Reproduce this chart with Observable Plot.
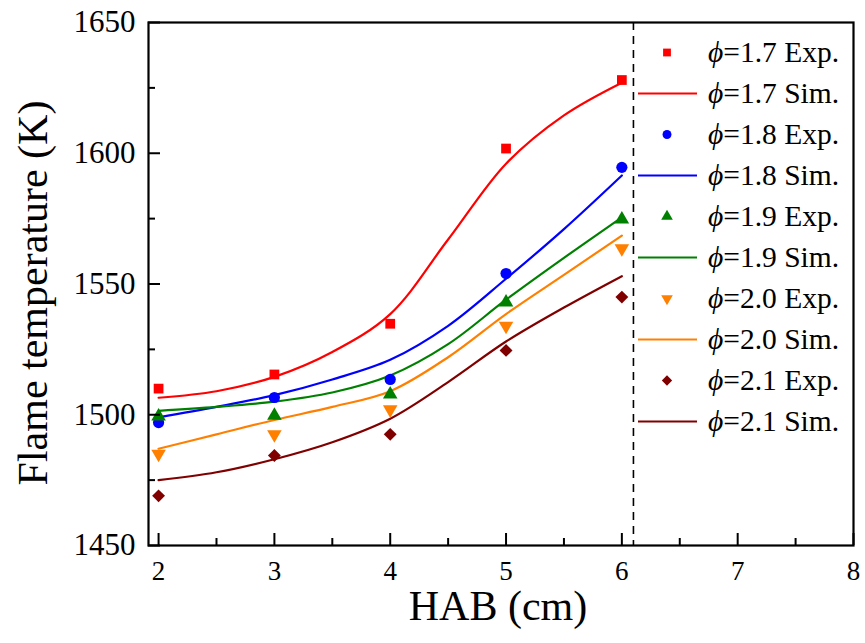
<!DOCTYPE html>
<html>
<head>
<meta charset="utf-8">
<script src="https://cdn.jsdelivr.net/npm/d3@7"></script>
<script src="https://cdn.jsdelivr.net/npm/@observablehq/plot@0.6"></script>
<style>
  html, body { margin: 0; padding: 0; background: #fff; }
  #wrap { position: relative; width: 865px; height: 643px; font-family: "Liberation Serif", serif; }
  #legend { position: absolute; left: 632px; top: 32px; }
  .row { display: flex; align-items: center; height: 41px; }
  .row svg { width: 70px; height: 41px; flex: none; }
  .row span { margin-left: 6px; font-size: 29.5px; color: #000; white-space: nowrap; }
  .row i { font-style: italic; }
</style>
</head>
<body>
<div id="wrap"><div id="legend"></div></div>
<script>
// Measurement heights above burner (cm)
const hab = [2, 3, 4, 5, 6];
// Equivalence ratios
const phis = ["1.7", "1.8", "1.9", "2.0", "2.1"];
const colors = ["#ff0000", "#0000ff", "#008000", "#ff8000", "#800000"];

// Experimental flame temperatures (K)
const exp17 = [1510, 1515.4, 1534.8, 1601.8, 1628];
const exp18 = [1497, 1506.6, 1513.5, 1554, 1594.6];
const exp19 = [1499.4, 1499.7, 1507.8, 1543, 1574.7];
const exp20 = [1485, 1492.5, 1502, 1534, 1563.6];
const exp21 = [1469, 1484.4, 1492.5, 1524.6, 1545];

// Simulated flame temperatures (K)
const simX = [2, 2.5, 3, 3.5, 4, 4.5, 5, 5.5, 6];
const sim17 = [1506.5, 1509, 1514.5, 1524, 1538.5, 1567, 1596, 1614.5, 1627];
const sim18 = [1499, 1503, 1507.5, 1513.5, 1521, 1534, 1552, 1571, 1591.5];
const sim19 = [1501.5, 1503, 1505, 1508.5, 1515, 1527, 1544, 1560, 1575.5];
const sim20 = [1487, 1492.5, 1498, 1503, 1509, 1522, 1538.5, 1553.5, 1568.5];
const sim21 = [1475, 1478, 1483, 1489.5, 1498.5, 1512.5, 1528, 1541, 1553];

// Axis ticks and the dashed boundary
const xMajor = [2, 3, 4, 5, 6, 7, 8];
const xMinor = [2.5, 3.5, 4.5, 5.5, 6.5, 7.5];
const yMajor = [1450, 1500, 1550, 1600, 1650];
const yMinor = [1475, 1525, 1575, 1625];
const boundary = [6.1];

const expSets = [exp17, exp18, exp19, exp20, exp21];
const simSets = [sim17, sim18, sim19, sim20, sim21];

const serif = "Liberation Serif";

// Downward-pointing triangle symbol
const triangleDown = {
  draw(ctx, size) {
    const s3 = Math.sqrt(3);
    const y = -Math.sqrt(size / (s3 * 3));
    ctx.moveTo(0, -y * 2);
    ctx.lineTo(-s3 * y, y);
    ctx.lineTo(s3 * y, y);
    ctx.closePath();
  }
};
const symbols = ["square", "circle", "triangle", triangleDown, "diamond2"];
const radii = [5.5, 5.6, 5.4, 5.4, 5.8];

const simMarks = simSets.map((vals, i) =>
  Plot.line(simX.map((x, j) => ({x, t: vals[j]})), {
    x: "x", y: "t", stroke: colors[i], strokeWidth: 2.2, curve: "catmull-rom"
  })
);
const expMarks = expSets.map((vals, i) =>
  Plot.dot(hab.map((x, j) => ({x, t: vals[j]})), {
    x: "x", y: "t", symbol: symbols[i], r: radii[i], fill: colors[i], stroke: "none"
  })
);

const axisStyle = {label: null, stroke: "#000", color: "#000", fill: "#000", fontFamily: serif};
const plain = d => String(d);

const chart = Plot.plot({
  width: 865,
  height: 643,
  marginLeft: 148,
  marginRight: 12,
  marginTop: 22,
  marginBottom: 98,
  style: {background: "#fff", color: "#000", overflow: "visible"},
  x: {domain: [1.913, 8]},
  y: {domain: [1450, 1650]},
  marks: [
    ...simMarks,
    ...expMarks,
    Plot.ruleX(boundary, {stroke: "#000", strokeWidth: 1.6, strokeDasharray: "8,6"}),
    // tick labels
    Plot.axisX(xMajor, {...axisStyle, tickSize: 0, tickPadding: 15, fontSize: 27, tickFormat: plain}),
    Plot.axisY(yMajor, {...axisStyle, tickSize: 0, tickPadding: 13, fontSize: 31, tickFormat: plain}),
    // inward tick marks
    Plot.axisX(xMajor, {...axisStyle, tickSize: -12, strokeWidth: 2, tickFormat: () => ""}),
    Plot.axisX(xMinor, {...axisStyle, tickSize: -7, strokeWidth: 2, tickFormat: () => ""}),
    Plot.axisY(yMajor, {...axisStyle, tickSize: -12, strokeWidth: 2, tickFormat: () => ""}),
    Plot.axisY(yMinor, {...axisStyle, tickSize: -7, strokeWidth: 2, tickFormat: () => ""}),
    Plot.frame({stroke: "#000", strokeWidth: 2.2}),
    // axis titles
    Plot.text(["HAB (cm)"], {frameAnchor: "bottom", dx: -3, dy: 74, fontSize: 42, fill: "#000", fontFamily: serif}),
    Plot.text(["Flame temperature (K)"], {
      frameAnchor: "left", textAnchor: "middle", dx: -115, dy: 9, rotate: -90,
      fontSize: 42, fill: "#000", fontFamily: serif
    })
  ]
});
// Serif face on every chart text
d3.select(chart).attr("font-family", serif);
d3.select(chart).selectAll("g, text").attr("font-family", serif).style("font-family", serif);

const wrap = document.getElementById("wrap");
wrap.insertBefore(chart, wrap.firstChild);

// Legend: experimental symbol followed by simulated line, for each ratio
const legend = d3.select("#legend");
phis.forEach((p, i) => {
  const expRow = legend.append("div").attr("class", "row");
  const s = expRow.append("svg");
  const sym = typeof symbols[i] === "string"
    ? {square: d3.symbolSquare, circle: d3.symbolCircle, triangle: d3.symbolTriangle, diamond2: d3.symbolDiamond2}[symbols[i]]
    : symbols[i];
  s.append("path")
    .attr("transform", "translate(35,20.5)")
    .attr("d", d3.symbol(sym, Math.PI * (radii[i] * 0.8) ** 2)())
    .attr("fill", colors[i]);
  expRow.append("span").html(`<i>ϕ</i>=${p} Exp.`);

  const simRow = legend.append("div").attr("class", "row");
  const s2 = simRow.append("svg");
  s2.append("line").attr("x1", 6).attr("x2", 65).attr("y1", 20.5).attr("y2", 20.5)
    .attr("stroke", colors[i]).attr("stroke-width", 2.2);
  simRow.append("span").html(`<i>ϕ</i>=${p} Sim.`);
});
</script>
</body>
</html>
